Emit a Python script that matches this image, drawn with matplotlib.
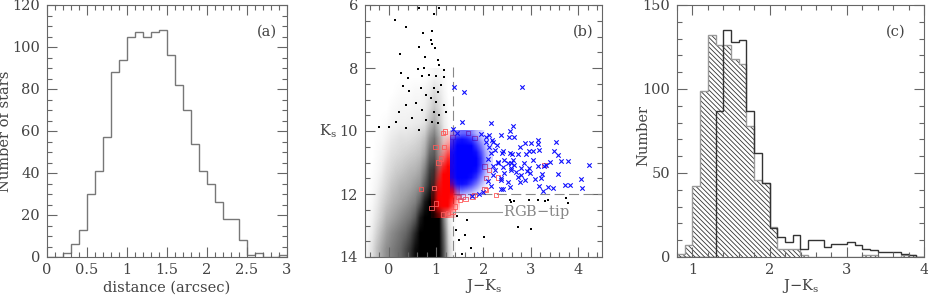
import numpy as np
import matplotlib
matplotlib.use('Agg')
import matplotlib.pyplot as plt
from matplotlib.colors import LinearSegmentedColormap
from matplotlib.ticker import MultipleLocator

plt.rcParams['font.family'] = 'DejaVu Serif'
plt.rcParams['mathtext.fontset'] = 'dejavuserif'
plt.rcParams['hatch.linewidth'] = 0.6

# ---- panel (a): radial distance histogram
dist_edges = np.round(np.arange(0, 3.01, 0.1), 2)
dist_counts = [0, 0, 2, 6, 13, 30, 41, 57, 88, 94, 105, 107, 105, 107, 108,
               96, 82, 70, 54, 41, 35, 26, 18, 18, 8, 1, 2, 0, 0, 1]

# ---- panel (c): colour histograms
col_edges = np.round(np.arange(0.8, 4.01, 0.1), 2)
col_hatched = [2, 7, 42, 99, 132, 126, 126, 118, 115, 78, 46, 44, 18, 5, 5, 5,
               1, 0, 0, 0, 0, 0, 0, 0, 1, 1, 0, 0, 0, 1, 1, 0]
col_open = [0, 0, 0, 0, 0, 87, 135, 128, 129, 87, 62, 44, 17, 12, 9, 13,
            5, 10, 10, 6, 8, 8, 9, 7, 5, 4, 3, 3, 3, 2, 1, 0]

# ---- panel (b): CMD
# density of black dots (rows Ks 8.0..14.0 step 0.5, cols J-K -0.5..1.4 step 0.1)
black_jk_edges = [-0.5, 1.4]
black_ks_edges = [8.0, 14.0]
black_density = [
    [0, 0, 0, 0, 0, 0, 0, 0, 0, 0, 0, 0, 0, .02, .04, .04, .02, 0, 0],
    [0, 0, 0, 0, 0, 0, .01, .02, .02, .02, .03, .03, .05, .08, .14, .10, .04, 0, 0],
    [0, 0, 0, 0, 0, .02, .03, .04, .04, .04, .05, .05, .07, .14, .22, .15, .06, .01, 0],
    [0, 0, 0, .01, .02, .04, .05, .06, .06, .07, .08, .09, .12, .25, .35, .22, .08, .02, 0],
    [0, 0, .01, .02, .05, .08, .10, .12, .12, .13, .15, .18, .25, .45, .55, .35, .12, .03, 0],
    [0, 0, .02, .04, .08, .12, .14, .16, .18, .20, .22, .25, .35, .60, .65, .40, .15, .03, 0],
    [0, .01, .03, .06, .12, .16, .20, .22, .25, .28, .30, .35, .50, .75, .80, .50, .20, .04, 0],
    [0, .02, .05, .10, .16, .22, .26, .30, .32, .35, .40, .45, .65, .85, .85, .60, .25, .05, 0],
    [.01, .03, .08, .15, .22, .28, .32, .36, .40, .45, .50, .65, .90, 1, 1, .85, .35, .06, 0],
    [.02, .05, .12, .20, .30, .35, .40, .45, .50, .55, .65, .90, 1, 1, 1, 1, .50, .10, .01],
    [.03, .08, .18, .28, .38, .45, .50, .55, .60, .70, .85, 1, 1, 1, 1, 1, .60, .15, .02],
    [.05, .12, .25, .35, .45, .50, .55, .60, .70, .80, .95, 1, 1, 1, 1, 1, .65, .20, .03],
]
# density of red squares (rows Ks 10.0..12.75 step 0.25, cols J-K 0.9..1.5 step 0.1)
red_jk_edges = [0.9, 1.5]
red_ks_edges = [10.0, 12.75]
red_density = [
    [0, 0, .05, .15, .20, .10],
    [0, .05, .15, .35, .40, .20],
    [0, .05, .30, .60, .60, .30],
    [0, .10, .50, .85, .80, .30],
    [0, .30, .80, 1, .90, .30],
    [.05, .50, 1, 1, 1, .30],
    [.10, .70, 1, 1, 1, .40],
    [.20, .85, 1, 1, 1, .40],
    [.30, .95, 1, 1, .90, .40],
    [.30, .90, 1, 1, .70, .20],
    [.10, .40, .50, .50, .30, 0],
]
# density of blue crosses (rows Ks 10.0..12.2 step 0.2, cols J-K 1.3..2.2 step 0.1)
blue_jk_edges = [1.3, 2.2]
blue_ks_edges = [10.0, 12.2]
blue_density = [
    [.30, .50, .60, .60, .50, .30, .20, 0, 0],
    [.70, .90, .95, .90, .80, .60, .35, .15, .05],
    [.80, 1, 1, 1, 1, .80, .55, .25, .10],
    [.90, 1, 1, 1, 1, .95, .70, .35, .15],
    [.90, 1, 1, 1, 1, 1, .80, .40, .15],
    [.90, 1, 1, 1, 1, 1, .80, .40, .15],
    [.90, 1, 1, 1, 1, .95, .70, .30, .10],
    [.85, 1, 1, 1, .95, .80, .50, .20, .05],
    [.60, .90, .95, .90, .75, .55, .30, .10, 0],
    [.20, .50, .60, .50, .40, .25, .10, 0, 0],
    [0, .10, .15, .10, .05, 0, 0, 0, 0],
]

black_jk = [0.63, 1.07, 0.96, 0.13, 0.37, 0.73, 0.92, 0.90, 0.92, 0.64, 0.98, 0.23,
            0.77, 1.03, 1.07, 0.62, 0.75, 1.16, 0.27, 0.40, 0.30, 0.85, 0.99, 0.71,
            1.17, 0.43, 0.68, 0.96, 1.03, 1.10, 0.78, 0.89, 0.99, 0.57, 0.36, 1.17,
            0.22, 0.71, 0.96, 1.07, 1.21, 0.50, 0.78, 0.92, 1.03, 0.15, 0.36, 0.64,
            0.01, -0.20,
            2.55, 2.65, 2.97, 3.29, 2.72, 3.00, 1.66, 1.49, 1.74, 1.42, 2.02, 2.58,
            3.15, 3.37, 3.75, 3.78, 1.55, 1.45, 1.60]
black_ks = [6.08, 6.10, 6.30, 6.48, 6.69, 6.90, 6.83, 7.11, 7.25, 7.32, 7.37, 7.57,
            7.64, 7.75, 7.90, 8.03, 8.01, 8.06, 8.17, 8.31, 8.56, 8.22, 8.25, 8.25,
            8.30, 8.73, 8.62, 8.65, 8.77, 8.54, 8.86, 8.96, 9.07, 9.12, 9.17, 9.17,
            9.39, 9.33, 9.39, 9.49, 9.39, 9.60, 9.65, 9.70, 9.76, 9.70, 9.92, 9.97,
            9.86, 9.86,
            12.19, 12.22, 12.19, 12.22, 13.04, 13.10, 12.83, 13.46, 13.72, 13.14, 13.36, 12.24,
            12.20, 12.20, 12.14, 12.28, 13.90, 12.70, 13.30]

red_jk = [2.26, 1.77, 1.56, 1.47, 2.02, 0.68, 1.14, 2.02, 2.12, 2.30, 1.17, 1.10,
          1.35, 1.67, 1.81, 1.81, 2.05, 3.29, 2.05, 0.99, 1.19, 1.05, 0.95, 1.00,
          0.90, 1.25, 1.15, 1.35, 1.40, 1.50, 1.62]
red_ks = [12.03, 12.08, 12.08, 12.09, 11.85, 11.85, 10.07, 11.13, 11.24, 11.47, 10.50, 10.87,
          10.20, 10.07, 10.23, 12.03, 11.87, 11.08, 11.50, 10.50, 10.02, 11.00, 11.80, 12.30,
          12.45, 12.60, 12.65, 12.55, 12.40, 12.20, 12.15]

blue_jk = [2.81, 2.16, 2.62, 2.56, 2.12, 2.53, 2.65, 2.88, 3.00, 3.15, 3.16, 3.52,
           2.20, 2.29, 2.76, 2.97, 3.04, 3.18, 3.49, 2.41, 2.56, 2.60, 2.72, 2.90,
           2.24, 3.58, 3.05, 3.64, 3.78, 3.41, 3.32, 3.27, 4.23, 2.44, 2.63, 2.57,
           2.85, 3.15, 2.97, 2.92, 2.99, 3.58, 3.23, 2.58, 2.69, 2.79, 3.08, 3.22,
           2.44, 2.37, 2.51, 3.18, 3.37, 3.46, 3.71, 3.83, 4.05, 4.08, 3.25, 2.37,
           2.55, 2.76, 2.88, 2.65, 2.80, 2.72, 1.38, 1.58, 1.54, 1.35, 2.17, 2.38,
           2.30, 2.41, 2.51, 2.58, 2.20, 2.36, 2.41, 2.15, 2.11, 2.05, 2.10, 2.20,
           2.25, 2.10, 2.15, 2.00, 1.90, 1.75, 2.30, 2.05, 1.95, 1.45, 2.37]
blue_ks = [8.61, 9.76, 9.84, 9.99, 10.13, 10.18, 10.20, 10.37, 10.37, 10.29, 10.42, 10.36,
           10.34, 10.44, 10.50, 10.62, 10.62, 10.60, 10.62, 10.65, 10.71, 10.72, 10.73, 10.73,
           10.60, 10.76, 10.92, 10.94, 10.94, 10.97, 11.08, 11.11, 11.09, 10.92, 10.92, 11.03,
           11.00, 11.11, 11.19, 11.26, 11.32, 11.37, 11.38, 11.19, 11.29, 11.40, 11.53, 11.50,
           11.34, 11.50, 11.61, 11.75, 11.79, 11.82, 11.71, 11.71, 11.52, 11.80, 11.90, 11.85,
           11.79, 11.61, 11.56, 11.08, 11.19, 11.45, 8.59, 8.77, 9.70, 9.94, 10.27, 10.71,
           10.97, 11.13, 11.03, 11.24, 11.40, 11.56, 11.85, 10.71, 10.50, 10.20, 10.90, 11.10,
           11.25, 11.60, 11.75, 11.95, 12.00, 12.05, 11.00, 10.35, 10.10, 10.05, 10.13]

tip_ks = 12.57
cut_jk = 1.35
cut_ks = 12.0

txt = '#444444'
edge = '#666666'


def style(ax, xmaj, xmin, ymaj, ymin):
    ax.xaxis.set_major_locator(MultipleLocator(xmaj))
    ax.xaxis.set_minor_locator(MultipleLocator(xmin))
    ax.yaxis.set_major_locator(MultipleLocator(ymaj))
    ax.yaxis.set_minor_locator(MultipleLocator(ymin))
    ax.tick_params(which='both', direction='in', top=True, right=True,
                   color=edge, labelcolor=txt, labelsize=10.5, width=0.8)
    ax.tick_params(which='major', length=7)
    ax.tick_params(which='minor', length=3.5)
    ax.tick_params(axis='x', pad=4)
    ax.tick_params(axis='y', pad=5)
    for s in ax.spines.values():
        s.set_color(edge)
        s.set_linewidth(0.8)


fig = plt.figure(figsize=(9.29, 2.95), dpi=100)
axa = fig.add_axes([47 / 929, 1 - 257 / 295, 240 / 929, 252 / 295])
axb = fig.add_axes([365 / 929, 1 - 257 / 295, 237 / 929, 252 / 295])
axc = fig.add_axes([677 / 929, 1 - 257 / 295, 247 / 929, 252 / 295])

# (a)
axa.stairs(dist_counts, dist_edges, color='#777777', lw=1.0)
axa.set_xlim(0, 3)
axa.set_ylim(0, 120)
style(axa, 0.5, 0.1, 20, 5)
axa.xaxis.set_major_formatter(plt.FuncFormatter(lambda v, p: '%g' % v))
axa.set_xlabel('distance (arcsec)', color=txt, fontsize=10.5)
axa.xaxis.set_label_coords(0.5, -0.093)
axa.set_ylabel('Number of stars', color=txt, fontsize=10.5)
axa.yaxis.set_label_coords(-0.145, 0.5)
axa.text(0.915, 0.895, '(a)', transform=axa.transAxes, ha='center', va='center',
         color=txt, fontsize=10.5)

# (b)
kmap = LinearSegmentedColormap.from_list('kk', [(0, 0, 0, 0), (0, 0, 0, 1)])
rmap = LinearSegmentedColormap.from_list('rr', [(1, 0, 0, 0), (1, 0, 0, 1)])
bmap = LinearSegmentedColormap.from_list('bb', [(0, 0, 1, 0), (0, 0, 1, 1)])
axb.imshow(black_density, cmap=kmap, vmin=0, vmax=1, aspect='auto', origin='upper',
           interpolation='bilinear', zorder=1,
           extent=[black_jk_edges[0], black_jk_edges[1], black_ks_edges[1], black_ks_edges[0]])
axb.scatter(black_jk, black_ks, s=0.8, marker='s', color='black', linewidths=0, zorder=2)
axb.plot([cut_jk, cut_jk], [7.97, 14], color='#888888', lw=0.8, dashes=(9, 4), zorder=2.5)
axb.plot([cut_jk, 4.5], [cut_ks, cut_ks], color='#888888', lw=0.8, dashes=(9, 4), zorder=2.5)
axb.imshow(red_density, cmap=rmap, vmin=0, vmax=1, aspect='auto', origin='upper',
           interpolation='bilinear', zorder=3,
           extent=[red_jk_edges[0], red_jk_edges[1], red_ks_edges[1], red_ks_edges[0]])
axb.scatter(red_jk, red_ks, s=10, marker='s', facecolors='none', edgecolors=(1, 0.35, 0.35),
            linewidths=0.6, zorder=4)
axb.imshow(blue_density, cmap=bmap, vmin=0, vmax=1, aspect='auto', origin='upper',
           interpolation='bilinear', zorder=5,
           extent=[blue_jk_edges[0], blue_jk_edges[1], blue_ks_edges[1], blue_ks_edges[0]])
axb.scatter(blue_jk, blue_ks, s=10, marker='x', color='#1010ff', linewidths=0.8, zorder=6)
axb.plot([cut_jk, 2.38], [tip_ks, tip_ks], color='#999999', lw=0.8, zorder=7)
axb.text(2.42, tip_ks, 'RGB$-$tip', color='#888888', fontsize=10.5, va='center', ha='left',
         zorder=8)
axb.set_xlim(-0.5, 4.5)
axb.set_ylim(14, 6)
style(axb, 1, 0.2, 2, 0.5)
axb.set_xlabel(r'J$-$K$_{\rm s}$', color=txt, fontsize=10.5)
axb.xaxis.set_label_coords(0.5, -0.08)
axb.text(-0.118, 0.5, r'K$_{\rm s}$', transform=axb.transAxes, ha='right', va='center',
         color=txt, fontsize=10.5)
axb.text(0.92, 0.893, '(b)', transform=axb.transAxes, ha='center', va='center',
         color=txt, fontsize=10.5)

# (c)
axc.stairs(col_hatched, col_edges, fill=True, facecolor='none', edgecolor='#333333',
           hatch='\\' * 7, lw=0)
axc.stairs(col_hatched, col_edges, color='#999999', lw=1.0)
axc.stairs(col_open, col_edges, color='#333333', lw=1.0)
axc.set_xlim(0.8, 4)
axc.set_ylim(0, 150)
style(axc, 1, 0.2, 50, 10)
axc.set_xlabel(r'J$-$K$_{\rm s}$', color=txt, fontsize=10.5)
axc.xaxis.set_label_coords(0.5, -0.078)
axc.set_ylabel('Number', color=txt, fontsize=10.5)
axc.yaxis.set_label_coords(-0.11, 0.484)
axc.text(0.887, 0.893, '(c)', transform=axc.transAxes, ha='center', va='center',
         color=txt, fontsize=10.5)

fig.savefig('out.png', dpi=100)
